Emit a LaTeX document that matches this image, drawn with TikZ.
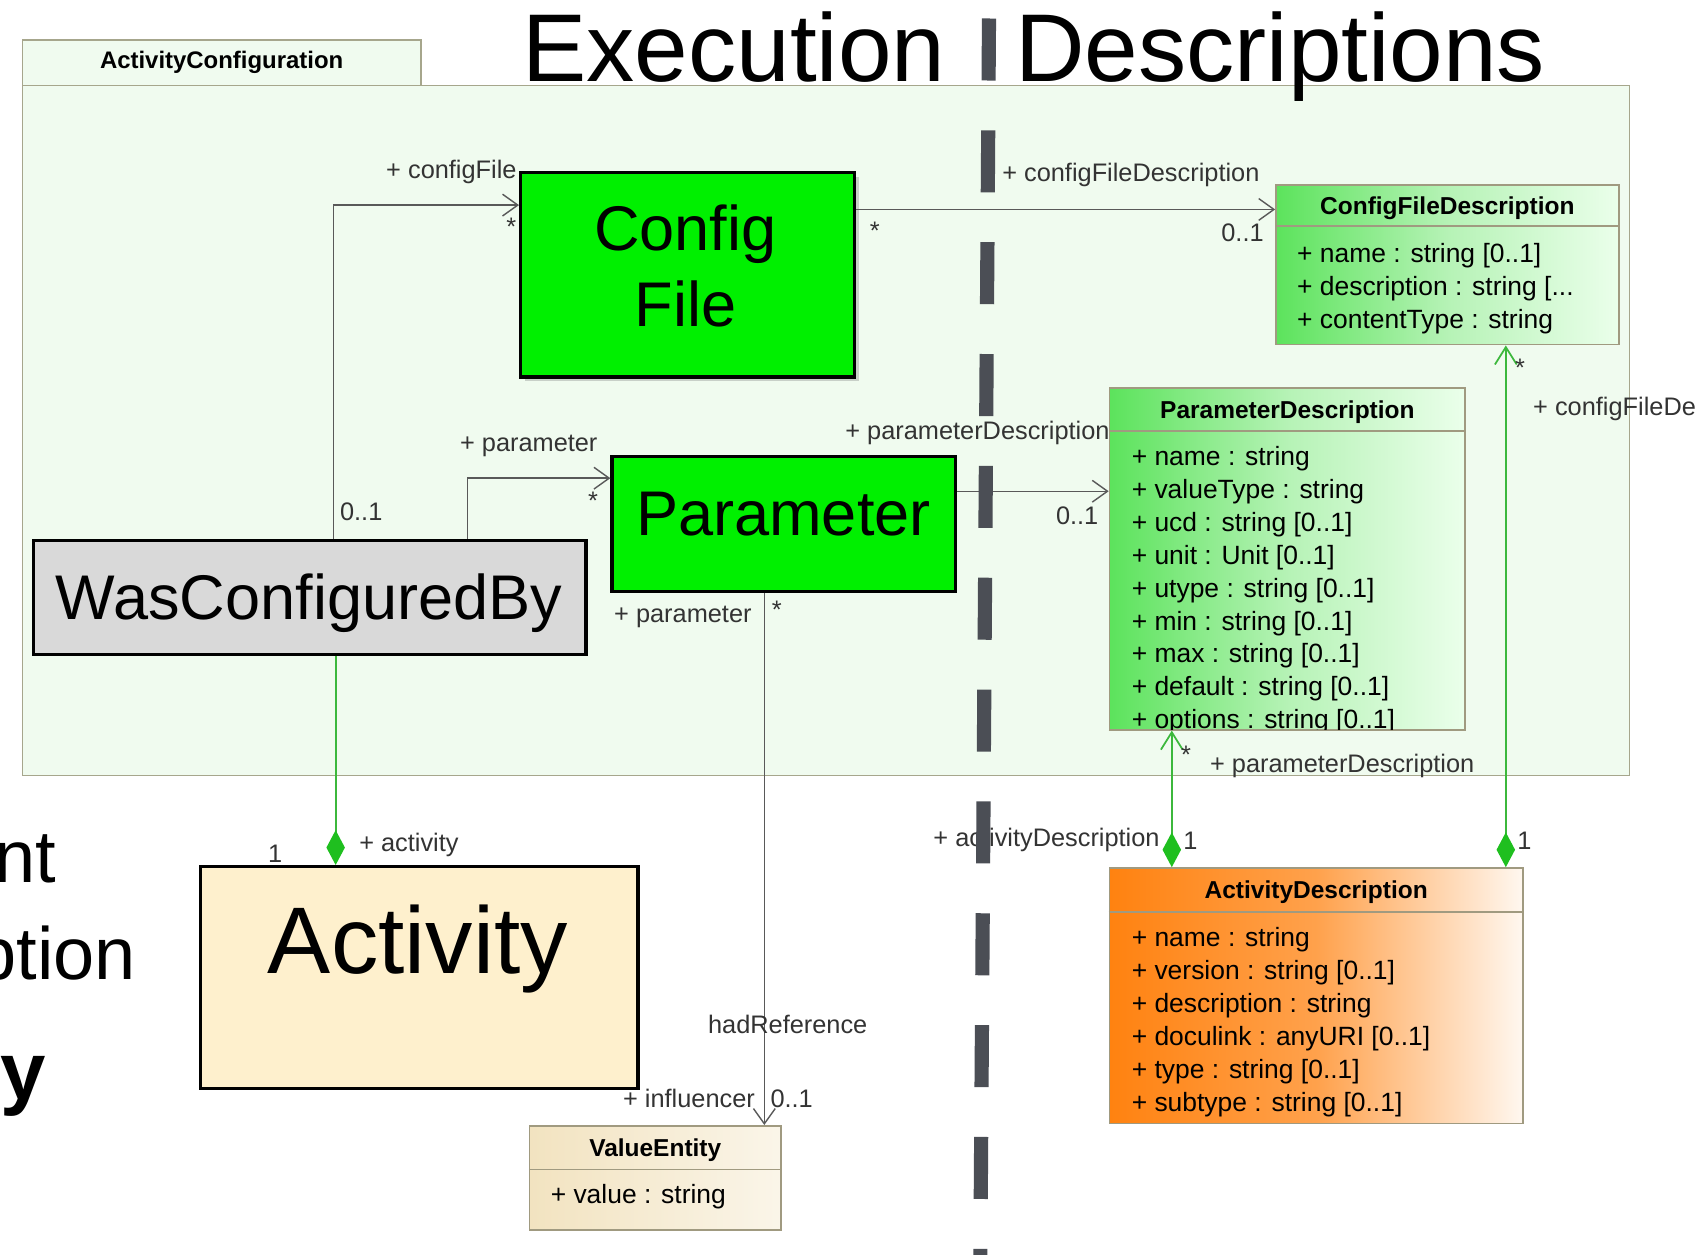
\documentclass[tikz,border=0pt]{standalone}
\usepackage{fontspec}
\setmainfont{Liberation Sans}
\usetikzlibrary{arrows.meta, positioning, shadows}

\definecolor{pkgfill}{HTML}{F0FBEF}
\definecolor{pkgline}{HTML}{A6A68C}
\definecolor{boxgreen}{HTML}{00F000}
\definecolor{boxgray}{HTML}{D9D9D9}
\definecolor{boxcream}{HTML}{FEF0CD}
\definecolor{clsline}{HTML}{A09A80}
\definecolor{clsgreen}{HTML}{5CE35C}
\definecolor{clsorange}{HTML}{FF8210}
\definecolor{clscream}{HTML}{F2E3C0}
\definecolor{compgreen}{HTML}{3CB83C}
\definecolor{diagreen}{HTML}{1FBF1F}
\definecolor{dashgray}{HTML}{4B4E55}

\tikzstyle{pkgbox} = [draw=pkgline, fill=pkgfill, line width=1.5pt, rectangle, anchor=north west, inner sep=0pt]
\tikzstyle{bigbox} = [draw=black, line width=3pt, rectangle, anchor=north west, inner sep=0pt]
\tikzstyle{bigtext} = [font=\fontsize{58}{70}\selectfont, inner sep=0pt, align=center]
\tikzstyle{umlbox} = [draw=clsline, line width=1.5pt, rectangle, anchor=north west, inner sep=0pt]
\tikzstyle{umlhead} = [font=\bfseries\fontsize{22.5}{27}\selectfont, inner sep=0pt]
\tikzstyle{umlattr} = [font=\fontsize{24.3}{30.4}\selectfont, anchor=north west, align=left, inner sep=0pt]
\tikzstyle{role} = [font=\fontsize{23.3}{28}\selectfont, text=black!80, inner sep=0pt]
\tikzstyle{huge} = [font=\fontsize{88.5}{88.5}\selectfont, inner sep=0pt]
\tikzstyle{frag} = [font=\fontsize{68}{68}\selectfont, inner sep=0pt, anchor=base east]
\tikzstyle{assoc} = [draw=black!65, line width=1.3pt, arrows={-Straight Barb[length=14pt,width=20pt]}]
\tikzstyle{compose} = [draw=compgreen, line width=1.6pt, arrows={-Diamond[length=32pt,width=17pt,color=diagreen]}]
\tikzstyle{composeto} = [draw=compgreen, line width=1.6pt, arrows={Diamond[length=32pt,width=17pt,color=diagreen]-Straight Barb[length=16pt,width=20pt]}]

\begin{document}
\begin{tikzpicture}[x=1pt, y=-1pt]
  \useasboundingbox (0,0) rectangle (1568,1153);
  \clip (0,0) rectangle (1568,1153);
  \fill[white] (0,0) rectangle (1568,1153);

  % package
  \node[pkgbox, minimum width=366pt, minimum height=42pt, font=\bfseries\fontsize{22}{26}\selectfont] (pkgtab) at (20,36) {ActivityConfiguration};
  \node[pkgbox, minimum width=1477pt, minimum height=634pt] (pkg) at (20,78) {};

  % title
  \node[huge, anchor=base west] (exec) at (480,75) {Execution};
  \node[huge, anchor=base west] (descr) at (933,75) {Descriptions};

  % cut-off words on the left
  \node[frag] (fragA) at (52,811) {nt};
  \node[frag] (fragB) at (125,900) {ption};
  \node[frag, font=\bfseries\fontsize{75}{75}\selectfont] (fragC) at (42,1011) {y};

  % execution side
  \node[bigbox, fill=boxgreen, minimum width=307pt, minimum height=188pt,
        drop shadow={shadow xshift=4pt, shadow yshift=-4pt, opacity=0.35}] (cfile) at (477,157) {};
  \node[bigtext, anchor=north] (cfiletext) at (630,188) {Config\\File};
  \node[bigbox, fill=boxgreen, minimum width=316pt, minimum height=124pt] (param) at (561,418) {};
  \node[bigtext, anchor=base] (paramtext) at (720,492) {Parameter};
  \node[bigbox, fill=boxgray, minimum width=508pt, minimum height=105pt] (wcb) at (29,495) {};
  \node[bigtext, anchor=base] (wcbtext) at (284,569) {WasConfiguredBy};
  \node[bigbox, fill=boxcream, minimum width=402pt, minimum height=204pt] (act) at (183,795) {};
  \node[huge, font=\fontsize{87}{87}\selectfont, anchor=base] (acttitle) at (384,895) {Activity};

  % ValueEntity
  \node[umlbox, left color=clscream, right color=clscream!35!white, minimum width=231pt, minimum height=96pt] (vent) at (486,1034) {};
  \node[umlhead] (venthead) at ([yshift=-23pt]vent.north) {ValueEntity};
  \draw[clsline, line width=1.5pt] ([yshift=-41pt]vent.north west) -- ([yshift=-41pt]vent.north east);
  \node[umlattr] (ventattr) at ([xshift=20pt,yshift=-54pt]vent.north west) {+ value : string};

  % description side
  \node[umlbox, left color=clsgreen, right color=white!92!green, middle color=clsgreen!45!white, minimum width=315pt, minimum height=147pt] (cfdesc) at (1172,169) {};
  \node[umlhead] (cfdeschead) at ([yshift=-22pt]cfdesc.north) {ConfigFileDescription};
  \draw[clsline, line width=1.5pt] ([yshift=-39pt]cfdesc.north west) -- ([yshift=-39pt]cfdesc.north east);
  \node[umlattr] (cfdescattr) at ([xshift=20pt,yshift=-54pt]cfdesc.north west) {+ name : string [0..1]\\+ description : string [...\\+ contentType : string};

  \node[umlbox, left color=clsgreen, right color=white!92!green, middle color=clsgreen!45!white, minimum width=327pt, minimum height=314pt] (pdesc) at (1019,356) {};
  \node[umlhead] (pdeschead) at ([yshift=-23pt]pdesc.north) {ParameterDescription};
  \draw[clsline, line width=1.5pt] ([yshift=-40pt]pdesc.north west) -- ([yshift=-40pt]pdesc.north east);
  \begin{scope}
    \clip (pdesc.north west) rectangle (pdesc.south east);
    \node[umlattr, font=\fontsize{24.3}{30.25}\selectfont] (pdescattr) at ([xshift=21pt,yshift=-54pt]pdesc.north west) {+ name : string\\+ valueType : string\\+ ucd : string [0..1]\\+ unit : Unit [0..1]\\+ utype : string [0..1]\\+ min : string [0..1]\\+ max : string [0..1]\\+ default : string [0..1]\\+ options : string [0..1]};
  \end{scope}
  \draw[clsline, line width=1.5pt] (pdesc.south west) -- (pdesc.south east);

  \node[umlbox, left color=clsorange, right color=white!94!orange, middle color=clsorange!75!white, minimum width=380pt, minimum height=235pt] (adesc) at (1019,797) {};
  \node[umlhead] (adeschead) at ([yshift=-23pt]adesc.north) {ActivityDescription};
  \draw[clsline, line width=1.5pt] ([yshift=-41pt]adesc.north west) -- ([yshift=-41pt]adesc.north east);
  \node[umlattr] (adescattr) at ([xshift=21pt,yshift=-55pt]adesc.north west) {+ name : string\\+ version : string [0..1]\\+ description : string\\+ doculink : anyURI [0..1]\\+ type : string [0..1]\\+ subtype : string [0..1]};

  % connectors
  \draw[assoc] ([xshift=22pt]wcb.north) |- ([yshift=64pt]cfile.west);
  \draw[assoc] ([xshift=145pt]wcb.north) |- ([yshift=42pt]param.west);
  \draw[assoc] ([yshift=60pt]cfile.east) -- ([yshift=60pt]cfile.east -| cfdesc.west);
  \draw[assoc] ([yshift=30pt]param.east) -- ([yshift=30pt]param.east -| pdesc.west);
  \draw[assoc] ([xshift=-18pt]param.south) -- ([xshift=-18pt]param.south |- vent.north);
  \draw[compose] ([xshift=24pt]wcb.south) -- ([xshift=24pt]wcb.south |- act.north);
  \draw[composeto] ([xshift=58pt]adesc.north west) -- ([xshift=58pt]adesc.north west |- pdesc.south);
  \draw[composeto] ([xshift=365pt]adesc.north west) -- ([xshift=365pt]adesc.north west |- cfdesc.south);

  % role names and multiplicities
  \node[role, anchor=east] (lcfg) at (475,158) {+ configFile};
  \node[role] (lcfgm) at (470,208) {*};
  \node[role] (lcfgw) at (332,470) {0..1};
  \node[role] (lpar) at (486,410) {+ parameter};
  \node[role] (lparm) at (545,460) {*};
  \node[role, anchor=west] (lcfd) at (921,161) {+ configFileDescription};
  \node[role] (lcfdm) at (804,212) {*};
  \node[role] (lcfdw) at (1142,214) {0..1};
  \node[role, anchor=east] (lpd) at (1020,398) {+ parameterDescription};
  \node[role] (lpdw) at (990,474) {0..1};
  \node[role, anchor=east] (lpar2) at (691,567) {+ parameter};
  \node[role] (lpar2m) at (714,560) {*};
  \node[role] (lhad) at (724,942) {hadReference};
  \node[role, anchor=east] (linf) at (694,1010) {+ influencer};
  \node[role, anchor=west] (linfw) at (708,1010) {0..1};
  \node[role, anchor=west] (lact) at (330,777) {+ activity};
  \node[role] (lactw) at (253,785) {1};
  \node[role] (lpdm) at (1090,694) {*};
  \node[role, anchor=west] (lpd2) at (1112,704) {+ parameterDescription};
  \node[role, anchor=east] (lad) at (1066,772) {+ activityDescription};
  \node[role] (ladw) at (1094,773) {1};
  \node[role] (lcfdm2) at (1397,338) {*};
  \node[role, anchor=west] (lcfd2) at (1409,376) {+ configFileDe};
  \node[role] (lcfdw2) at (1401,773) {1};

  % execution | descriptions divider
  \draw[dashgray, line width=13pt, dash pattern=on 57pt off 45.8pt] (909,17) -- (901,1160);
\end{tikzpicture}
\end{document}
